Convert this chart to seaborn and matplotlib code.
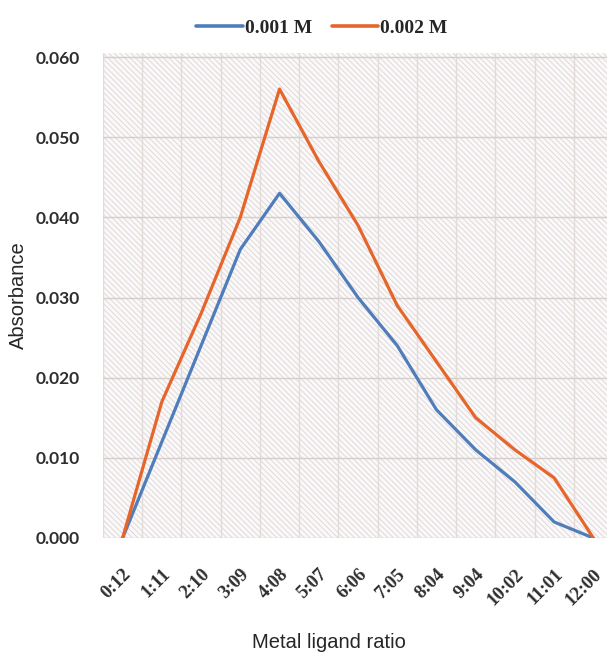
import matplotlib
matplotlib.use('Agg')
import matplotlib.pyplot as plt
import matplotlib.patches as mpatches
from matplotlib.ticker import MultipleLocator, FixedLocator
import pandas as pd
import seaborn as sns

# data
ratios = ['0:12', '1:11', '2:10', '3:09', '4:08', '5:07', '6:06',
          '7:05', '8:04', '9:04', '10:02', '11:01', '12:00']
abs_001 = [0.000, 0.012, 0.024, 0.036, 0.043, 0.037, 0.030,
           0.024, 0.016, 0.011, 0.007, 0.002, 0.000]
abs_002 = [0.000, 0.017, 0.028, 0.040, 0.056, 0.047, 0.039,
           0.029, 0.022, 0.015, 0.011, 0.0075, 0.000]
series_names = ['0.001 M', '0.002 M']
colors = ['#4f7dbb', '#e6652a']

df = pd.DataFrame({
    'ratio': ratios * 2,
    'absorbance': abs_001 + abs_002,
    'conc': [series_names[0]] * len(ratios) + [series_names[1]] * len(ratios),
})

sns.set_style('white')
plt.rcParams['font.family'] = ['DejaVu Sans']
plt.rcParams['hatch.linewidth'] = 0.6

fig = plt.figure(figsize=(6.07, 6.53), dpi=100)
ax = fig.add_axes([103 / 607, (653 - 538) / 653, 510 / 607, 485 / 653])

# hatched plot background like the original
bg = mpatches.Rectangle((0, 0), 1, 1, transform=ax.transAxes, facecolor='#faf8f8',
                        edgecolor='#ddd5d5', hatch='\\\\\\\\\\\\', lw=0, zorder=0)
ax.add_patch(bg)

sns.lineplot(data=df, x='ratio', y='absorbance', hue='conc', palette=colors,
             linewidth=2.3, ax=ax, legend=False, sort=False, zorder=3)

ax.set_xlim(-0.5, len(ratios) - 0.5)
ax.set_ylim(0, 0.0605)
ax.yaxis.set_major_locator(MultipleLocator(0.01))
ax.set_yticklabels(['%.3f' % v for v in ax.get_yticks()])
ax.xaxis.set_minor_locator(FixedLocator([i + 0.5 for i in range(-1, len(ratios))]))
ax.grid(True, axis='y', which='major', color='#d6cecb', lw=1.0)
ax.grid(True, axis='x', which='minor', color='#e2dbd8', lw=1.0)
ax.set_axisbelow(True)
for s in ax.spines.values():
    s.set_visible(False)
ax.tick_params(axis='both', which='both', length=0)

for lab in ax.get_yticklabels():
    lab.set_fontfamily('Lato')
    lab.set_fontweight('bold')
    lab.set_fontsize(12.5)
    lab.set_color('#2e2e2e')
ax.tick_params(axis='y', pad=17)

ax.set_xticks(range(len(ratios)))
ax.set_xticklabels(ratios, rotation=45, ha='right', va='top', rotation_mode='anchor',
                   fontfamily='Liberation Serif', fontweight='bold', fontsize=13.5,
                   color='#2e2e2e')
ax.tick_params(axis='x', pad=20)

ax.set_xlabel('Metal ligand ratio', fontfamily='Liberation Sans', fontsize=14.5)
ax.xaxis.set_label_coords((329 - 103) / 510, -(642 - 538) / 485)
ax.set_ylabel('Absorbance', fontfamily='Liberation Sans', fontsize=14.5)
ax.yaxis.set_label_coords(-(103 - 18) / 510, 0.5)
ax.xaxis.label.set_va('center')
ax.yaxis.label.set_va('center')

handles = [plt.Line2D([], [], color=c, lw=2.6) for c in colors]
leg = fig.legend(handles, series_names, loc='center', bbox_to_anchor=(322 / 607, 1 - 28 / 653),
                 ncol=2, frameon=False, handlelength=2.4, handletextpad=0.1, columnspacing=1.0,
                 prop={'family': 'Liberation Serif', 'weight': 'bold', 'size': 14})

fig.savefig('out.png', dpi=100)
